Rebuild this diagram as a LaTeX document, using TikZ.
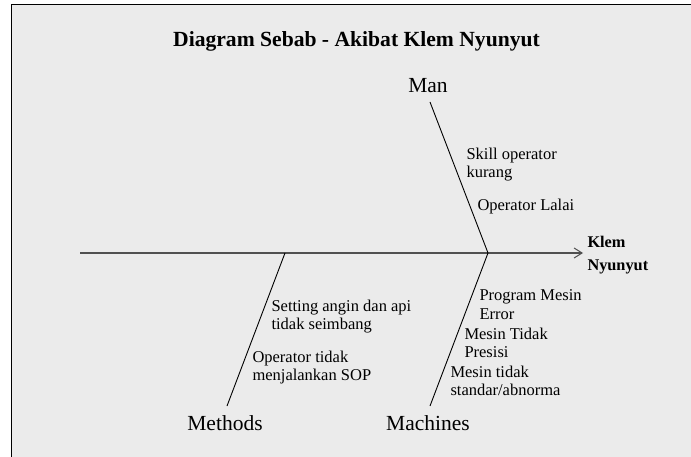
\documentclass[tikz,border=0pt]{standalone}
\usepackage{fontspec}
\setmainfont{Liberation Serif}
\usetikzlibrary{arrows.meta}

\definecolor{panelgray}{HTML}{EBEBEB}
\definecolor{spinegray}{HTML}{505050}

\tikzset{every picture/.style={line width=1pt},
  cause/.style={anchor=base west,inner sep=0pt,align=left,font=\fontsize{16.5}{18}\selectfont},
  category/.style={anchor=base,inner sep=0.75pt,font=\fontsize{21.5}{24}\selectfont},
  bone/.style={draw=black,line width=0.9pt},
  spine/.style={draw=spinegray,line width=1.6pt,-{Straight Barb[length=8pt,width=10pt,line width=1pt]}}}

\begin{document}
\begin{tikzpicture}[x=1pt,y=1pt,yscale=-1,xscale=1]
		\useasboundingbox (0,0) rectangle (691,457);
		\fill[white] (0,0) rectangle (691,457);

		%Shape: Panel
		\fill[panelgray] (11.5,5) rectangle (691,457);
		\draw[line width=1pt] (11.5,457) -- (11.5,5) -- (691,5);

		% Title
		\node (title) [anchor=base,inner sep=0pt,font=\fontsize{21.6}{24}\selectfont\bfseries] at (356.5,47) {Diagram Sebab - Akibat Klem Nyunyut};

		% Bone ends
		\coordinate (tail) at (80,253);
		\coordinate (head) at (583,253);
		\coordinate (jman) at (488,253);
		\coordinate (jmethods) at (285,253);
		\coordinate (manend) at (430,102);
		\coordinate (machinesend) at (430,406);
		\coordinate (methodsend) at (227,406);

		%Shape: Spine
		\draw[spine] (tail) -- (head);
		%Shape: Bones
		\draw[bone] (manend) -- (jman);
		\draw[bone] (jman) -- (machinesend);
		\draw[bone] (jmethods) -- (methodsend);

		% Effect (base = last line)
		\node (effect) [anchor=base west,inner sep=0pt,align=left,font=\fontsize{16.3}{22}\selectfont\bfseries] at (587,270) {Klem\\Nyunyut};

		% Category Nodes
		\node (man) [category] at (428,93) {Man};
		\node (methods) [category] at (225,430) {Methods};
		\node (machines) [category] at (428,430) {Machines};

		% Cause Nodes (base = last line)
		\node (skill) [cause] at (466,178) {Skill operator\\kurang};
		\node (lalai) [cause] at (477,211) {Operator Lalai};
		\node (setting) [cause] at (271,329) {Setting angin dan api\\tidak seimbang};
		\node (sop) [cause] at (252,380) {Operator tidak\\menjalankan SOP};
		\node (program) [cause] at (479,319) {Program Mesin\\Error};
		\node (presisi) [cause] at (464,357) {Mesin Tidak\\Presisi};
		\node (abnorma) [cause] at (450,395) {Mesin tidak\\standar/abnorma};

	\end{tikzpicture}
\end{document}
